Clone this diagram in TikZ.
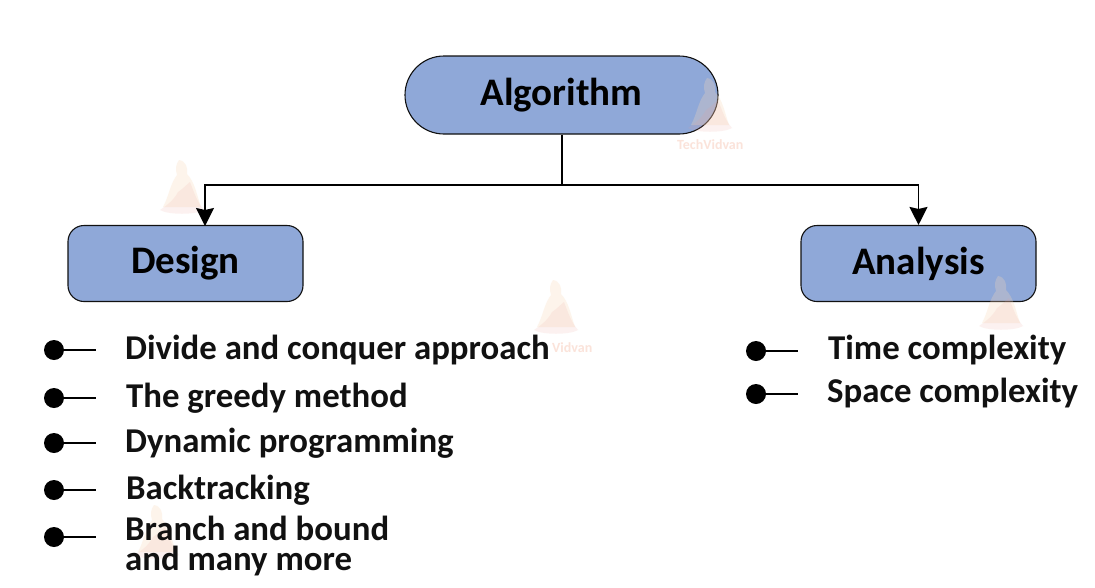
\documentclass[tikz,border=0pt]{standalone}
\usepackage{fontspec}
\setmainfont{Carlito}
\usetikzlibrary{arrows.meta}
\definecolor{boxfill}{HTML}{8FA8D8}
\definecolor{ink}{HTML}{111111}
\definecolor{wmupper}{HTML}{F8D9B8}
\definecolor{wmlower}{HTML}{EE9F96}
\definecolor{wmtext}{HTML}{FBE3DA}
\newcommand{\wmfigure}[2]{%
  \fill[wmupper,opacity=0.28] (#1-3,#2) .. controls (#1+4,#2+1) and (#1+6,#2+8) .. (#1+5,#2+14)
    .. controls (#1+13,#2+22) and (#1+15,#2+36) .. (#1+19,#2+47) -- (#1-19,#2+47)
    .. controls (#1-13,#2+36) and (#1-12,#2+24) .. (#1-5,#2+15)
    .. controls (#1-7,#2+9) and (#1-6,#2+4) .. cycle;
  \fill[wmlower,opacity=0.14] (#1-4,#2+32) .. controls (#1+2,#2+28) and (#1+4,#2+25) .. (#1+8,#2+22)
    .. controls (#1+12,#2+32) and (#1+15,#2+42) .. (#1+22,#2+50)
    .. controls (#1+14,#2+55) and (#1-14,#2+55) .. (#1-22,#2+50)
    .. controls (#1-16,#2+46) and (#1-8,#2+40) .. cycle;
}
\tikzset{
  x=1pt,y=-1pt,
  boxnode/.style={draw=ink,fill=boxfill,line width=1.1pt,rounded corners=16pt,minimum width=235pt,minimum height=76pt,inner sep=0pt,font=\fontsize{39}{39}\bfseries,text=black},
  itemtext/.style={anchor=west,inner sep=0pt,align=left,font=\fontsize{34.8}{30}\bfseries,text=ink},
  wmlabel/.style={anchor=west,inner sep=0pt,font=\fontsize{14}{14}\bfseries,text=wmtext},
  dot/.style={circle,fill=black,minimum size=20pt,inner sep=0pt},
  conn/.style={draw=black,line width=1.7pt},
  arrowconn/.style={conn,-{Stealth[length=18pt,width=18pt,inset=2pt]}},
}
\begin{document}
\begin{tikzpicture}
\useasboundingbox (0,0) rectangle (1095,587);
\fill[white] (0,0) rectangle (1095,587);
\node[boxnode,rounded corners=39pt,minimum width=313pt,minimum height=78pt] (algo) at (561.5,95) {Algorithm};
\node[boxnode] (design) at (185.5,263.5) {Design};
\node[boxnode] (analysis) at (918.5,263.5) {Analysis};
\wmfigure{710}{78}
\wmfigure{182}{160}
\wmfigure{556}{280}
\wmfigure{1001}{276}
\wmfigure{157}{505}
\node[wmlabel] (wmone) at (677,145) {TechVidvan};
\node[wmlabel] (wmtwo) at (552,348) {Vidvan};
\coordinate (mid) at (562,185);
\coordinate (designtop) at (205,226);
\draw[conn] (mid |- algo.south) -- (mid);
\draw[arrowconn] (mid) -| (designtop);
\draw[arrowconn] (mid) -| (analysis.north);
\foreach \n/\y/\t/\tx in {a/350/Divide and conquer approach/125,b/398/The greedy method/126,c/443/Dynamic programming/125,d/490/Backtracking/126}{
  \node[dot] (dot\n) at (54,\y) {};
  \coordinate (end\n) at (96,\y);
  \draw[conn] (dot\n) -- (end\n);
  \node[itemtext] (txt\n) at (\tx,\y) {\t};
}
\node[dot] (dote) at (54,537) {};
\coordinate (ende) at (96,537);
\draw[conn] (dote) -- (ende);
\node[itemtext] (txte) at (125,546) {Branch and bound\\and many more};
\foreach \n/\y/\t/\tx in {g/351/Time complexity/828,h/394/Space complexity/827}{
  \node[dot] (dot\n) at (756,\y) {};
  \coordinate (end\n) at (798,\y);
  \draw[conn] (dot\n) -- (end\n);
  \node[itemtext] (txt\n) at (\tx,\y-1) {\t};
}
\end{tikzpicture}
\end{document}
